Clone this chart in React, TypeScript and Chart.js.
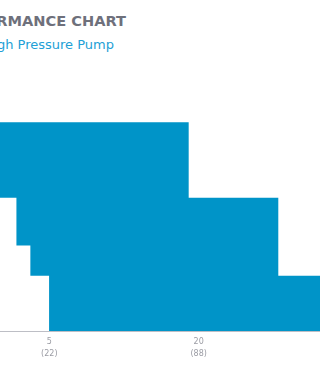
import React, { useEffect, useRef } from 'react';
import { Chart, registerables } from 'chart.js';

Chart.register(...registerables);

// Operating bands of the pump (top pressure, min flow, max flow in m³/h)
const bandPressureTop = [83, 53, 34, 22];
const bandFlowMin = [0, 1.7, 3.1, 5];
const bandFlowMax = [19, 28, 28, 35];

// x-axis ticks: flow in m³/h with gpm in parentheses
const xTickFlow = [5, 20, 35];
const xTickGpm = [22, 88, 154];

const titleText = 'PERFORMANCE CHART';
const subtitleText = 'High Pressure Pump';

const BLUE = '#0094c8';

export default function App() {
  const canvasRef = useRef<HTMLCanvasElement | null>(null);

  useEffect(() => {
    const canvas = canvasRef.current;
    if (!canvas) return;

    const n = bandPressureTop.length;
    // outer (right) envelope of the operating range
    const outer: { x: number; y: number }[] = [{ x: bandFlowMin[0], y: bandPressureTop[0] }];
    for (let i = 0; i < n - 1; i++) {
      if (bandFlowMax[i] !== bandFlowMax[i + 1]) {
        outer.push({ x: bandFlowMax[i], y: bandPressureTop[i + 1] });
      }
    }
    outer.push({ x: bandFlowMax[n - 1], y: bandPressureTop[n - 1] });

    // inner (left) cut-out of the operating range
    const inner: { x: number; y: number }[] = [];
    for (let i = 1; i < n; i++) {
      inner.push({ x: i === 1 ? bandFlowMin[0] : bandFlowMin[i - 1], y: bandPressureTop[i] });
    }
    inner.push({ x: bandFlowMin[n - 1], y: 0 });

    const chart = new Chart(canvas, {
      type: 'line',
      data: {
        datasets: [
          {
            data: inner,
            stepped: true,
            fill: 'origin',
            backgroundColor: '#ffffff',
            borderColor: 'rgba(0,0,0,0)',
            borderWidth: 0,
            pointRadius: 0,
          },
          {
            data: outer,
            stepped: true,
            fill: 'origin',
            backgroundColor: BLUE,
            borderColor: 'rgba(0,0,0,0)',
            borderWidth: 0,
            pointRadius: 0,
          },
        ],
      },
      options: {
        animation: false,
        responsive: false,
        events: [],
        layout: { padding: { left: 79.5, right: 20, top: 79.5, bottom: 19 } },
        plugins: {
          legend: { display: false },
          tooltip: { enabled: false },
          title: { display: false },
        },
        scales: {
          x: {
            type: 'linear',
            position: 'bottom',
            min: 0,
            max: 35,
            z: 1,
            grid: { display: false, drawTicks: false },
            border: { display: true, color: '#bdbec5', width: 2 },
            afterBuildTicks: (s: any) => {
              s.ticks = xTickFlow.map((v) => ({ value: v }));
            },
            ticks: {
              padding: 5,
              maxRotation: 0,
              autoSkip: false,
              color: '#9b9ca4',
              font: { family: 'DejaVu Sans', size: 8, lineHeight: 1.5 },
              callback: (v: any) => {
                const i = xTickFlow.indexOf(Number(v));
                return [String(v), `(${xTickGpm[i]})`];
              },
            },
          },
          y: {
            type: 'linear',
            display: false,
            min: 0,
            max: 100,
          },
        },
      },
    });
    return () => chart.destroy();
  }, []);

  return (
    <div
      style={{
        position: 'fixed',
        left: 0,
        top: 0,
        width: 320,
        height: 384,
        overflow: 'hidden',
        background: '#ffffff',
      }}
    >
      <div
        style={{
          position: 'absolute',
          right: 194,
          top: 14,
          whiteSpace: 'nowrap',
          fontFamily: 'DejaVu Sans',
          fontWeight: 'bold',
          fontSize: 14.6,
          lineHeight: '14px',
          color: '#6e707b',
        }}
      >
        {titleText}
      </div>
      <div
        style={{
          position: 'absolute',
          right: 206,
          top: 38,
          whiteSpace: 'nowrap',
          fontFamily: 'DejaVu Sans',
          fontSize: 13,
          lineHeight: '13px',
          color: '#22a0d6',
        }}
      >
        {subtitleText}
      </div>
      <canvas
        ref={canvasRef}
        width={448}
        height={384}
        style={{ position: 'absolute', left: -80, top: 0, width: 448, height: 384 }}
      />
    </div>
  );
}
